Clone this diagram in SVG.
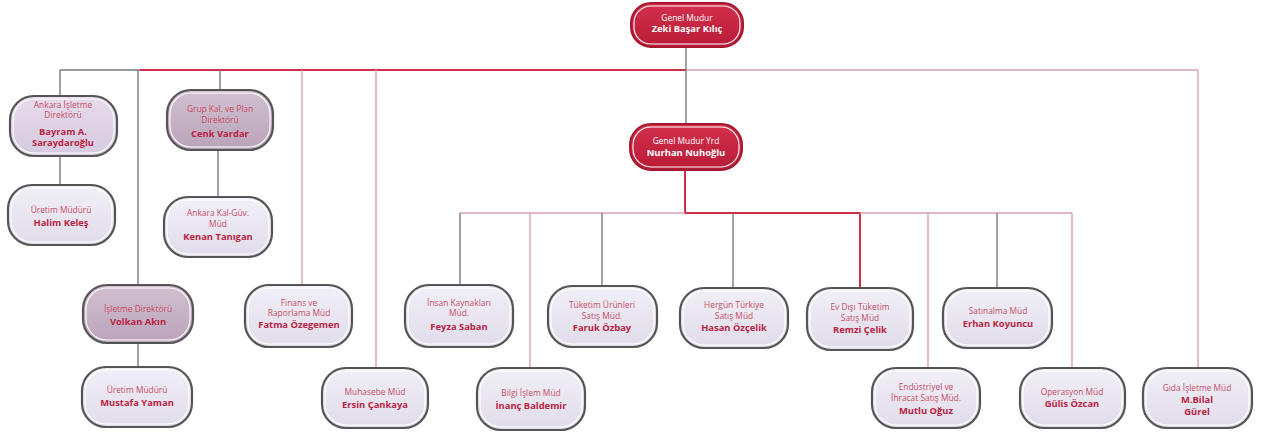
<svg xmlns="http://www.w3.org/2000/svg" width="1274" height="438" viewBox="0 0 1274 438">
<defs>
<linearGradient id="gl" x1="0" y1="0" x2="0" y2="1"><stop offset="0" stop-color="#f1eff6"/><stop offset="1" stop-color="#e0dcea"/></linearGradient>
<linearGradient id="gm" x1="0" y1="0" x2="0" y2="1"><stop offset="0" stop-color="#e6dcea"/><stop offset="1" stop-color="#d6cadf"/></linearGradient>
<linearGradient id="gd" x1="0" y1="0" x2="0" y2="1"><stop offset="0" stop-color="#d2c0d0"/><stop offset="1" stop-color="#b9a3b9"/></linearGradient>
<linearGradient id="gr" x1="0" y1="0" x2="0" y2="1"><stop offset="0" stop-color="#d3304c"/><stop offset="1" stop-color="#b81b37"/></linearGradient>
</defs>
<style>
.o{stroke:#555555;stroke-width:2.2}
.ro{stroke:#a5182f;stroke-width:2}
.i{fill:none;stroke:#ffffff;stroke-width:1.1}
.t{font-family:"Open Sans","Liberation Sans",sans-serif;font-size:8.4px;fill:#c84d68;text-anchor:middle}
.n{font-family:"Open Sans","Liberation Sans",sans-serif;font-size:9.4px;font-weight:bold;fill:#bb2343;text-anchor:middle}
.rt{font-family:"Open Sans","Liberation Sans",sans-serif;font-size:8.4px;fill:#ffffff;text-anchor:middle}
.rn{font-family:"Open Sans","Liberation Sans",sans-serif;font-size:9.4px;font-weight:bold;fill:#ffffff;text-anchor:middle}
.cg{stroke:#7a7a7a;stroke-width:1.4;fill:none}
.cp{stroke:#d9a2ae;stroke-width:1.4;fill:none}
.cr{stroke:#cf2f4b;stroke-width:2;fill:none}
</style>
<rect width="1274" height="438" fill="#ffffff"/>
<g id="connectors">
<path class="cg" d="M60 70 H140"/>
<path class="cr" d="M140 70 H686"/>
<path class="cp" d="M686 70 H1198"/>
<path class="cg" d="M686 47 V124"/>
<path class="cg" d="M60 70 V96 M60 156 V185"/>
<path class="cg" d="M138 70 V285 M138 343 V367"/>
<path class="cg" d="M220 70 V90 M218 150 V197"/>
<path class="cp" d="M302 70 V285"/>
<path class="cp" d="M376 70 V368"/>
<path class="cp" d="M1198 70 V368"/>
<path class="cr" d="M685 170 V213 H860 V288"/>
<path class="cp" d="M460 213 H685 M860 213 H1072"/>
<path class="cg" d="M460 213 V285"/>
<path class="cp" d="M530 213 V368"/>
<path class="cg" d="M602 213 V286"/>
<path class="cg" d="M733 213 V288"/>
<path class="cp" d="M928 213 V368"/>
<path class="cg" d="M997 213 V288"/>
<path class="cp" d="M1072 213 V368"/>
</g>
<g id="genel-mudur">
<rect class="ro" x="631" y="3" width="112" height="44" rx="20" fill="url(#gr)"/>
<rect class="i" x="634" y="6" width="106" height="38" rx="17"/>
<text class="rt" x="687" y="21">Genel Mudur</text>
<text class="rn" x="687" y="32">Zeki Başar Kılıç</text>
</g>
<g id="genel-mudur-yrd">
<rect class="ro" x="630" y="124" width="112" height="46" rx="21" fill="url(#gr)"/>
<rect class="i" x="633" y="127" width="106" height="40" rx="18"/>
<text class="rt" x="686" y="144">Genel Mudur Yrd</text>
<text class="rn" x="686" y="156">Nurhan Nuhoğlu</text>
</g>
<g id="ankara-isletme">
<rect class="o" x="10" y="96" width="107" height="60" rx="24" fill="url(#gm)"/>
<rect class="i" x="13" y="99" width="101" height="54" rx="21"/>
<text class="t" x="63" y="108">Ankara İşletme</text>
<text class="t" x="63" y="118">Direktörü</text>
<text class="n" x="63" y="135">Bayram A.</text>
<text class="n" x="63" y="146">Saraydaroğlu</text>
</g>
<g id="uretim-1">
<rect class="o" x="8" y="185" width="107" height="60" rx="24" fill="url(#gl)"/>
<rect class="i" x="11" y="188" width="101" height="54" rx="21"/>
<text class="t" x="61" y="213">Üretim Müdürü</text>
<text class="n" x="61" y="226">Halim Keleş</text>
</g>
<g id="grup-kal">
<rect class="o" x="167" y="90" width="106" height="60" rx="24" fill="url(#gd)"/>
<rect class="i" x="170" y="93" width="100" height="54" rx="21"/>
<text class="t" x="220" y="112">Grup Kal. ve Plan</text>
<text class="t" x="220" y="123">Direktörü</text>
<text class="n" x="220" y="137">Cenk Vardar</text>
</g>
<g id="ankara-kal">
<rect class="o" x="164" y="197" width="108" height="60" rx="24" fill="url(#gl)"/>
<rect class="i" x="167" y="200" width="102" height="54" rx="21"/>
<text class="t" x="218" y="216">Ankara Kal-Güv.</text>
<text class="t" x="218" y="227">Müd</text>
<text class="n" x="218" y="240">Kenan Tanıgan</text>
</g>
<g id="isletme-dir">
<rect class="o" x="83" y="285" width="110" height="58" rx="24" fill="url(#gd)"/>
<rect class="i" x="86" y="288" width="104" height="52" rx="21"/>
<text class="t" x="138" y="312">İşletme Direktörü</text>
<text class="n" x="138" y="325">Volkan Akın</text>
</g>
<g id="uretim-2">
<rect class="o" x="82" y="367" width="110" height="60" rx="24" fill="url(#gl)"/>
<rect class="i" x="85" y="370" width="104" height="54" rx="21"/>
<text class="t" x="137" y="393">Üretim Müdürü</text>
<text class="n" x="137" y="406">Mustafa Yaman</text>
</g>
<g id="finans">
<rect class="o" x="245" y="285" width="107" height="62" rx="24" fill="url(#gl)"/>
<rect class="i" x="248" y="288" width="101" height="56" rx="21"/>
<text class="t" x="299" y="306">Finans ve</text>
<text class="t" x="299" y="316">Raporlama Müd</text>
<text class="n" x="299" y="328">Fatma Özegemen</text>
</g>
<g id="muhasebe">
<rect class="o" x="322" y="368" width="106" height="60" rx="24" fill="url(#gl)"/>
<rect class="i" x="325" y="371" width="100" height="54" rx="21"/>
<text class="t" x="375" y="395">Muhasebe Müd</text>
<text class="n" x="375" y="408">Ersin Çankaya</text>
</g>
<g id="insan-kaynaklari">
<rect class="o" x="405" y="285" width="108" height="62" rx="24" fill="url(#gl)"/>
<rect class="i" x="408" y="288" width="102" height="56" rx="21"/>
<text class="t" x="459" y="306">İnsan Kaynakları</text>
<text class="t" x="459" y="316">Müd.</text>
<text class="n" x="459" y="330">Feyza Saban</text>
</g>
<g id="bilgi-islem">
<rect class="o" x="477" y="368" width="108" height="62" rx="24" fill="url(#gl)"/>
<rect class="i" x="480" y="371" width="102" height="56" rx="21"/>
<text class="t" x="531" y="396">Bilgi İşlem Müd</text>
<text class="n" x="531" y="409">İnanç Baldemir</text>
</g>
<g id="tuketim">
<rect class="o" x="548" y="286" width="109" height="61" rx="24" fill="url(#gl)"/>
<rect class="i" x="551" y="289" width="103" height="55" rx="21"/>
<text class="t" x="602" y="308">Tüketim Ürünleri</text>
<text class="t" x="602" y="319">Satış Müd.</text>
<text class="n" x="602" y="331">Faruk Özbay</text>
</g>
<g id="hergun">
<rect class="o" x="680" y="288" width="108" height="60" rx="24" fill="url(#gl)"/>
<rect class="i" x="683" y="291" width="102" height="54" rx="21"/>
<text class="t" x="734" y="308">Hergün Türkiye</text>
<text class="t" x="734" y="319">Satış Müd</text>
<text class="n" x="734" y="331">Hasan Özçelik</text>
</g>
<g id="ev-disi">
<rect class="o" x="807" y="288" width="106" height="62" rx="24" fill="url(#gl)"/>
<rect class="i" x="810" y="291" width="100" height="56" rx="21"/>
<text class="t" x="860" y="310">Ev Dışı Tüketim</text>
<text class="t" x="860" y="321">Satış Müd</text>
<text class="n" x="860" y="333">Remzi Çelik</text>
</g>
<g id="satinalma">
<rect class="o" x="943" y="288" width="109" height="60" rx="24" fill="url(#gl)"/>
<rect class="i" x="946" y="291" width="103" height="54" rx="21"/>
<text class="t" x="998" y="314">Satınalma Müd</text>
<text class="n" x="998" y="327">Erhan Koyuncu</text>
</g>
<g id="endustriyel">
<rect class="o" x="872" y="368" width="108" height="60" rx="24" fill="url(#gl)"/>
<rect class="i" x="875" y="371" width="102" height="54" rx="21"/>
<text class="t" x="926" y="390">Endüstriyel ve</text>
<text class="t" x="926" y="401">İhracat Satış Müd.</text>
<text class="n" x="926" y="414">Mutlu Oğuz</text>
</g>
<g id="operasyon">
<rect class="o" x="1020" y="368" width="105" height="60" rx="24" fill="url(#gl)"/>
<rect class="i" x="1023" y="371" width="99" height="54" rx="21"/>
<text class="t" x="1072" y="395">Operasyon Müd</text>
<text class="n" x="1072" y="407">Gülis Özcan</text>
</g>
<g id="gida">
<rect class="o" x="1143" y="368" width="109" height="60" rx="24" fill="url(#gl)"/>
<rect class="i" x="1146" y="371" width="103" height="54" rx="21"/>
<text class="t" x="1197" y="391">Gıda İşletme Müd</text>
<text class="n" x="1197" y="403">M.Bilal</text>
<text class="n" x="1197" y="415">Gürel</text>
</g>
</svg>
